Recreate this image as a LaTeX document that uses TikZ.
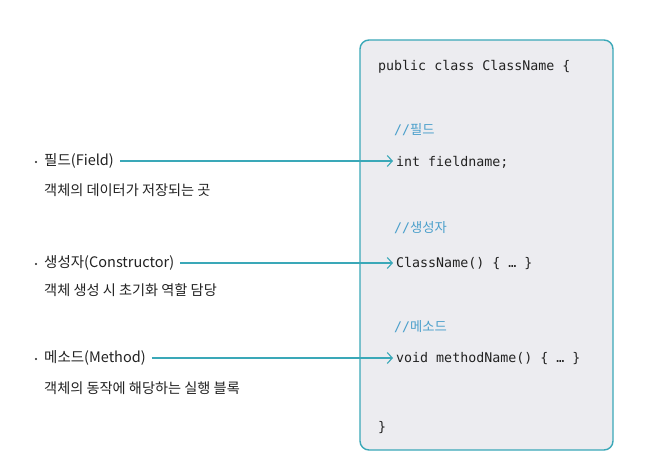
\documentclass[tikz,border=0pt]{standalone}
\usepackage{fontspec}
\setmainfont{Noto Sans CJK KR}
\newfontfamily\codefont{DejaVu Sans Mono}
\newfontfamily\krfont{Noto Sans CJK KR}
\usetikzlibrary{arrows.meta}
\definecolor{teal}{HTML}{3AA8B8}
\definecolor{boxfill}{HTML}{ECECF0}
\definecolor{cmt}{HTML}{4A9FCB}
\definecolor{txt}{HTML}{222222}
\tikzset{
  codebox/.style={draw=teal, line width=1.4pt, fill=boxfill, rounded corners=9pt},
  code/.style={font=\codefont\fontsize{13.3}{15}\selectfont, text=txt, anchor=west, inner sep=0pt},
  comment/.style={font=\codefont\fontsize{13.3}{15}\selectfont, text=cmt, anchor=west, inner sep=0pt},
  lbl/.style={font=\krfont\fontsize{14.5}{17}\selectfont, text=txt, anchor=west, inner sep=0pt},
  sub/.style={font=\krfont\fontsize{14.2}{17}\selectfont, text=txt, anchor=west, inner sep=0pt},
  dot/.style={circle, fill=txt, inner sep=0pt, minimum size=2.4pt},
  conn/.style={draw=teal, line width=1.1pt, -{Straight Barb[length=5pt,width=11pt]}},
}
\begin{document}
\begin{tikzpicture}[x=1pt,y=-1pt]
\useasboundingbox (0,0) rectangle (653,476);
\fill[white] (0,0) rectangle (653,476);
\path[codebox] (360,40) rectangle (613,450);
\node[code] (head) at (378,67) {public class ClassName \{};
\node[comment] (c1) at (394,130) {//{\krfont 필드}};
\node[code] (fcode) at (396,162) {int fieldname;};
\node[comment] (c2) at (394,228) {//{\krfont 생성자}};
\node[code] (ccode) at (396,263) {ClassName() \{ … \}};
\node[comment] (c3) at (394,327) {//{\krfont 메소드}};
\node[code] (mcode) at (396,359) {void methodName() \{ … \}};
\node[code] (close) at (378,428) {\}};

\node[dot] (fd) at (36,162) {};
\node[lbl] (f) at (44,161) {필드(Field)};
\node[sub] (fs) at (44,190) {객체의 데이터가 저장되는 곳};
\node[dot] (cd) at (36,264) {};
\node[lbl] (c) at (44,263) {생성자(Constructor)};
\node[sub] (cs) at (44,290) {객체 생성 시 초기화 역할 담당};
\node[dot] (md) at (36,359) {};
\node[lbl] (m) at (44,358) {메소드(Method)};
\node[sub] (ms) at (44,388) {객체의 동작에 해당하는 실행 블록};

\draw[conn] ([xshift=6pt]f.east) -- ([xshift=-3pt]fcode.west |- f.east);
\draw[conn] ([xshift=6pt]c.east) -- ([xshift=-3pt]ccode.west |- c.east);
\draw[conn] ([xshift=6pt]m.east) -- ([xshift=-3pt]mcode.west |- m.east);
\end{tikzpicture}
\end{document}
